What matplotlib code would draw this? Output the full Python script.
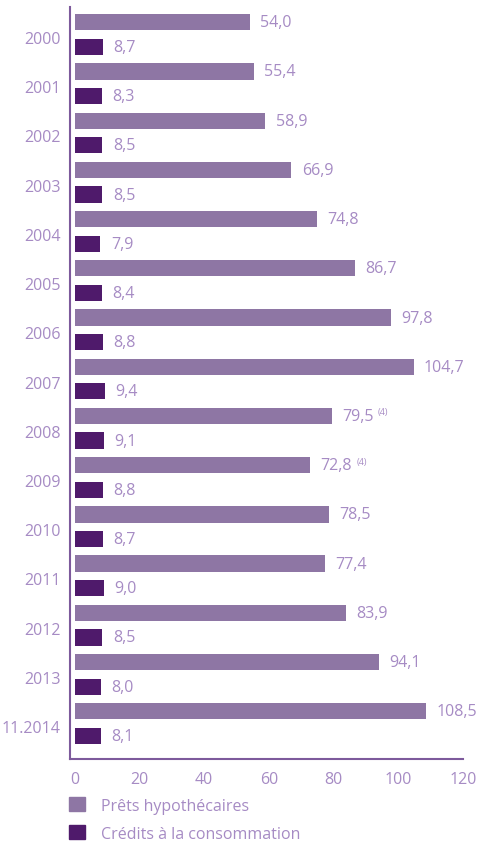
import matplotlib
matplotlib.use("Agg")
import matplotlib.pyplot as plt
from matplotlib.patches import Patch

years = ["2000", "2001", "2002", "2003", "2004", "2005", "2006", "2007",
         "2008", "2009", "2010", "2011", "2012", "2013", "11.2014"]
prets = [54.0, 55.4, 58.9, 66.9, 74.8, 86.7, 97.8, 104.7,
         79.5, 72.8, 78.5, 77.4, 83.9, 94.1, 108.5]
credits = [8.7, 8.3, 8.5, 8.5, 7.9, 8.4, 8.8, 9.4,
           9.1, 8.8, 8.7, 9.0, 8.5, 8.0, 8.1]
notes = {8: "(4)", 9: "(4)"}
xticks = [0, 20, 40, 60, 80, 100, 120]
series_names = ["Prêts hypothécaires", "Crédits à la consommation"]

c_light = "#8e76a4"
c_dark = "#4f1a6b"
c_text = "#a68bc4"
c_axis = "#7d5a9c"

plt.rcParams['font.family'] = ['Open Sans', 'DejaVu Sans']

fig = plt.figure(figsize=(4.78, 8.45), dpi=100)
ax = fig.add_axes([70 / 478, 1 - 760 / 845, (463 - 70) / 478, (760 - 8) / 845])

n = len(years)
pos = list(range(n))
h = 0.33
ax.barh([p for p in pos], prets, height=h, color=c_light, left=0)
ax.barh([p + 0.5 for p in pos], credits, height=h, color=c_dark, left=0)

fs = 11.5


def fmt(v):
    return f"{v:.1f}".replace(".", ",")


for i in range(n):
    ax.annotate(fmt(prets[i]), (prets[i], i), xytext=(7.5, 0), textcoords="offset points",
                va="center", ha="left", color=c_text, fontsize=fs)
    if i in notes:
        ax.annotate(notes[i], (prets[i], i), xytext=(33, 3), textcoords="offset points",
                    va="center", ha="left", color=c_text, fontsize=6.5)
    ax.annotate(fmt(credits[i]), (credits[i], i + 0.5), xytext=(7.5, 0), textcoords="offset points",
                va="center", ha="left", color=c_text, fontsize=fs)

ax.set_ylim(14.97, -0.31)
ax.set_xlim(-1.5, 120)
ax.set_yticks([p + 0.3 for p in pos])
ax.set_yticklabels(years, color=c_text, fontsize=fs)
ax.set_xticks(xticks)
ax.set_xticklabels([str(x) for x in xticks], color=c_text, fontsize=fs)
ax.tick_params(axis='both', length=0)
ax.tick_params(axis='y', pad=7)
ax.tick_params(axis='x', pad=9)
for s in ["top", "right"]:
    ax.spines[s].set_visible(False)
for s in ["left", "bottom"]:
    ax.spines[s].set_color(c_axis)
    ax.spines[s].set_linewidth(1.5)

handles = [Patch(color=c_light), Patch(color=c_dark)]
leg = fig.legend(handles, series_names, loc="upper left",
                 bbox_to_anchor=(66 / 478, 1 - 795 / 845), frameon=False,
                 handlelength=1.0, handleheight=1.0, handletextpad=1.0,
                 labelspacing=0.7, fontsize=fs, labelcolor=c_text,
                 borderpad=0.2, borderaxespad=0)

fig.savefig("out.png", dpi=100)
